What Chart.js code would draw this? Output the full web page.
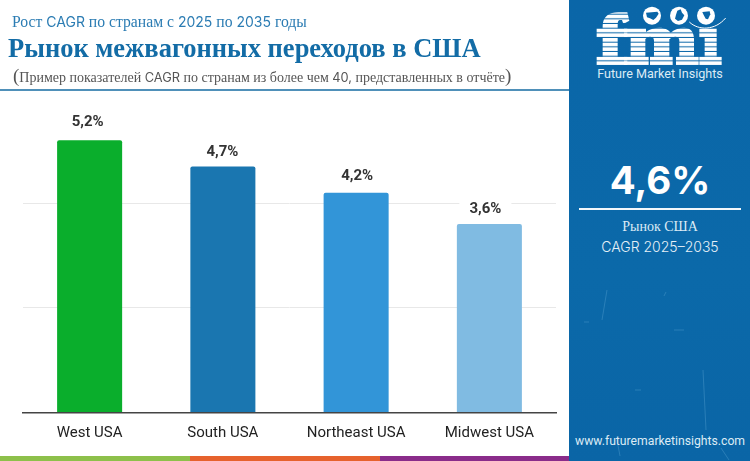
<!DOCTYPE html>
<html lang="ru">
<head>
<meta charset="utf-8">
<title>Рынок межвагонных переходов в США</title>
<script src="https://cdn.jsdelivr.net/npm/chart.js@4"></script>
<style>
  html, body { margin: 0; padding: 0; background: #fff; }
  #page { position: relative; width: 750px; height: 461px; overflow: hidden; }
  #page div { position: absolute; white-space: nowrap; }
  canvas { position: absolute; left: 0; top: 0; }
  .serif { font-family: "Liberation Serif", serif; }
  .sans { font-family: Inter, sans-serif; font-size: 14px; }
  #sub { left: 12px; top: 12px; font-size: 15.7px; line-height: 20px; color: #2b7cb3; }
  #title { left: 8px; top: 32px; font-size: 26.5px; line-height: 32px; font-weight: bold; color: #136ca6; }
  #note { left: 13px; top: 65px; font-size: 14px; line-height: 22px; color: #555; }
  #note .sans { font-size: 12.8px; }
  #note b { font-weight: normal; font-size: 19px; }
  #rule { left: 0; top: 89px; width: 569px; height: 2px; background: #4f90b9; }
  #panel { left: 569px; top: 0; width: 181px; height: 461px; background: linear-gradient(180deg, #0a66a8 0%, #0b69a9 60%, #0a65a6 100%); }
  #logo { position: absolute; left: 1px; top: 0; }
  #scratches { position: absolute; left: 0; top: 270px; }
  #brand, #big, #market, #cagr, #site { left: 0; width: 182px; text-align: center; }
  #brand { top: 65px; font: 12.6px/18px Roboto, sans-serif; color: #dcebf5; }
  #big { top: 155px; font: bold 38.5px/50px Inter, sans-serif; color: #fff; }
  #sep { left: 10px; top: 208px; width: 162px; height: 1.5px; background: #f2f7fb; }
  #market { top: 218px; font: 14px/18px "Liberation Serif", serif; color: #dcebf5; }
  #cagr { top: 238px; font: 300 14px/18px Inter, sans-serif; color: #e6f0f7; }
  #site { top: 433px; font: 12.2px/16px Roboto, sans-serif; color: #dcebf5; }
  .stripe { top: 456px; height: 5px; width: 190px; }
</style>
</head>
<body>
<div id="page">
  <canvas id="myChart" width="750" height="461"></canvas>

  <div id="sub" class="serif">Рост <span class="sans">CAGR</span> по странам с <span class="sans">2025</span> по <span class="sans">2035</span> годы</div>
  <div id="title" class="serif">Рынок межвагонных переходов в США</div>
  <div id="note" class="serif"><b>(</b>Пример показателей <span class="sans">CAGR</span> по странам из более чем <span class="sans">40,</span> представленных в отчёте<b>)</b></div>
  <div id="rule"></div>

  <div class="stripe" style="left:0;background:#8dc04a"></div>
  <div class="stripe" style="left:190px;background:#e6622d"></div>
  <div class="stripe" style="left:380px;background:#8a2c8a"></div>

  <div id="panel">
    <svg id="scratches" width="181" height="191" fill="none" stroke="#4f9ccb" stroke-opacity="0.45">
      <path d="M38 20L33 50M97 22L95 26M134 100L137 160M48 170L51 186M152 178L160 190M20 52H15M105 60H115M66 120H72"/>
    </svg>
    <svg id="logo" width="180" height="120" viewBox="0 0 540 360">
      <defs>
        <pattern id="bands" width="10" height="14" patternUnits="userSpaceOnUse" y="2">
          <rect width="10" height="11" fill="#fff"/>
        </pattern>
      </defs>
      <g fill="url(#bands)">
        <!-- f -->
        <path d="M80 85H98V78C98 50 118 37 145 37H172L178 62 160 72 156 60H150C145 60 143 65 143 75V85H172V112H143V170H172V195H80V170H98V112H80Z"/>
        <!-- m -->
        <path d="M162 85H228V96C240 86 255 83 268 83 285 83 296 90 302 98 314 87 328 83 342 83 362 83 372 96 372 118V170H386V195H318V170H328V122C328 113 323 110 316 110 308 110 302 114 298 118V170H308V195H240V170H252V122C252 113 247 110 240 110 234 110 229 113 226 117V170H236V195H162V170H182V112H162Z"/>
        <!-- i -->
        <path d="M388 85H440V170H455V195H388V170H404V112H388Z"/>
      </g>
      <!-- globes -->
      <circle cx="246" cy="47" r="27" fill="#fff"/>
      <circle cx="327" cy="47" r="27" fill="#fff"/>
      <circle cx="408" cy="47" r="27" fill="#fff"/>
      <path d="M228 38L262 35 266 41 258 53 250 60 240 55 231 52Z" fill="#0a66a8"/>
      <path d="M322 32L332 28 336 38 343 46 336 59 324 63 315 56 318 44Z" fill="#0a66a8"/>
      <path d="M397 36L419 34 421 43 414 58 407 56 401 45Z" fill="#0a66a8"/>
      <path d="M358 66C385 92 435 92 467 54" fill="none" stroke="#fff" stroke-width="3"/>
    </svg>
    <div id="brand">Future Market Insights</div>
    <div id="big">4,6%</div>
    <div id="sep"></div>
    <div id="market">Рынок США</div>
    <div id="cagr">CAGR 2025–2035</div>
    <div id="site">www.futuremarketinsights.com</div>
  </div>
</div>

<script>
const categories = ['West USA', 'South USA', 'Northeast USA', 'Midwest USA'];
const cagrValues = [5.2, 4.7, 4.2, 3.6];
const barColors = ['#0aae2c', '#1a76b0', '#3295d8', '#80bbe2'];

// value labels above the bars, white box hides the grid line behind them
const barLabels = {
  id: 'barLabels',
  afterDatasetsDraw(chart) {
    const ctx = chart.ctx;
    const offX = [-2, -0.5, 1, -4];
    const offY = [-18.5, -14, -16, -15];
    ctx.save();
    ctx.font = 'bold 15px Roboto';
    ctx.textAlign = 'center';
    ctx.textBaseline = 'middle';
    chart.getDatasetMeta(0).data.forEach(function (bar, i) {
      const text = cagrValues[i].toFixed(1).replace('.', ',') + '%';
      const x = bar.x + offX[i];
      const y = bar.y + offY[i];
      ctx.fillStyle = '#fff';
      ctx.fillRect(x - 26, y - 9, 52, 18);
      ctx.fillStyle = '#333';
      ctx.fillText(text, x, y);
    });
    ctx.restore();
  }
};

new Chart(document.getElementById('myChart'), {
  type: 'bar',
  data: {
    labels: categories,
    datasets: [{
      data: cagrValues,
      backgroundColor: barColors,
      borderRadius: 2,
      borderSkipped: 'bottom',
      categoryPercentage: 1,
      barPercentage: 0.488
    }]
  },
  options: {
    responsive: false,
    animation: false,
    devicePixelRatio: 1,
    layout: { padding: { left: 23, right: 194, top: 98.5, bottom: 0 } },
    plugins: { legend: { display: false }, tooltip: { enabled: false } },
    scales: {
      x: {
        grid: { display: false },
        border: { color: '#444', width: 1.5 },
        ticks: { color: '#222', font: { family: 'Roboto', size: 15 }, padding: 4, maxRotation: 0 },
        afterFit(axis) { axis.height = 48.5; }
      },
      y: {
        min: 0,
        max: 6,
        ticks: { display: false, stepSize: 2 },
        border: { display: false },
        grid: {
          drawTicks: false,
          color(c) { return (c.tick.value === 2 || c.tick.value === 4) ? '#e8e8e8' : 'transparent'; }
        }
      }
    }
  },
  plugins: [barLabels]
});
</script>
</body>
</html>
